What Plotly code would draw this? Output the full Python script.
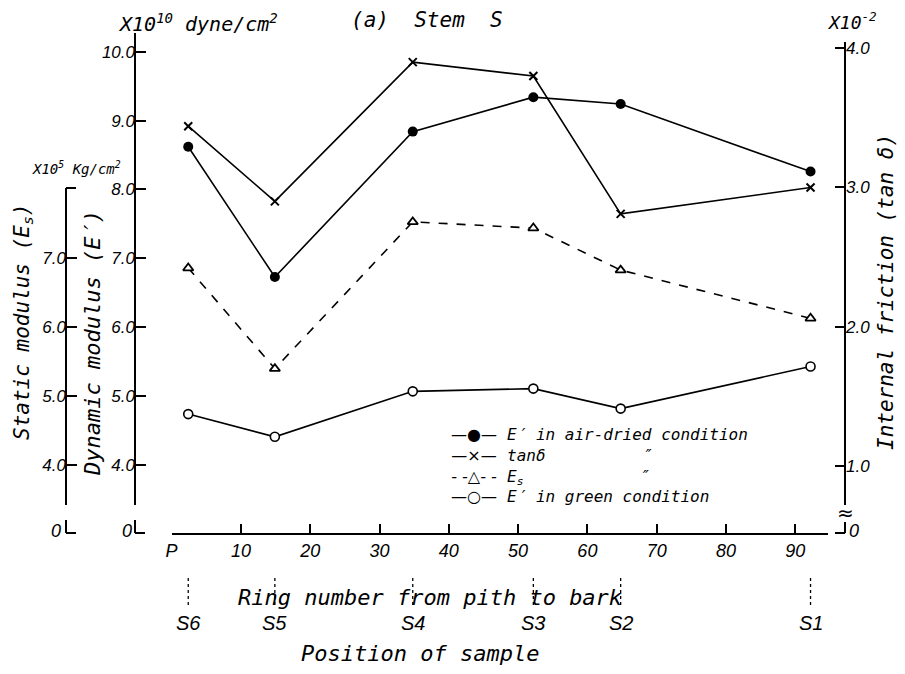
import plotly.graph_objects as go

# ---------------- data ----------------
ring = [2.4, 14.9, 34.8, 52.2, 64.8, 92.2]           # ring number of each sample
samples = ["S6", "S5", "S4", "S3", "S2", "S1"]
e_air = [8.62, 6.73, 8.84, 9.34, 9.24, 8.26]          # E' air-dried, x10^10 dyne/cm2
tan_d = [3.44, 2.90, 3.90, 3.80, 2.81, 3.00]          # tan delta, x10^-2
e_s = [6.86, 5.40, 7.53, 7.44, 6.83, 6.13]            # Es, x10^5 kg/cm2
e_green = [4.74, 4.41, 5.07, 5.11, 4.82, 5.43]        # E' green, x10^10 dyne/cm2

x_ticks = [0, 10, 20, 30, 40, 50, 60, 70, 80, 90]
x_labels = ["P", "10", "20", "30", "40", "50", "60", "70", "80", "90"]
dyn_ticks = [4, 5, 6, 7, 8, 9, 10]
dyn_labels = ["4.0", "5.0", "6.0", "7.0", "8.0", "9.0", "10.0"]
sta_ticks = [4, 5, 6, 7]
sta_labels = ["4.0", "5.0", "6.0", "7.0"]
tan_ticks = [1, 2, 3, 4]
tan_labels = ["1.0", "2.0", "3.0", "4.0"]

legend_keys = ["—●—", "—×—", "- -△- -", "—○—"]
legend_labels = ["E′ in air-dried condition",
                 "tanδ" + "\u00a0" * 10 + "″",
                 "E<sub>s</sub>" + "\u00a0" * 12 + "″",
                 "E′ in green condition"]

# ---------------- geometry helpers (screen pixels; page body has an 8px margin) ----------------
W, H = 905, 674
OFF = 8
ML, MR, MT, MB = 42, 48, 22, 149
PW, PH = W - ML - MR, H - MT - MB


def px(xp):
    return (xp - OFF - ML) / PW


def py(yp):
    return (H - MB - (yp - OFF)) / PH


TXT = "DejaVu Sans Mono"
SYM = "DejaVu Sans"
NUM = "Liberation Sans"
BLK = "black"

fig = go.Figure()

fig.add_trace(go.Scatter(
    x=ring, y=e_air, yaxis="y", mode="lines+markers", name="E′ in air-dried condition",
    line=dict(color=BLK, width=1.6),
    marker=dict(symbol="circle", size=10, color=BLK)))
fig.add_trace(go.Scatter(
    x=ring, y=tan_d, yaxis="y2", mode="lines+markers", name="tanδ",
    line=dict(color=BLK, width=1.6),
    marker=dict(symbol="x-thin", size=8, color=BLK, line=dict(color=BLK, width=2))))
fig.add_trace(go.Scatter(
    x=ring, y=e_s, yaxis="y3", mode="lines+markers", name="Es",
    line=dict(color=BLK, width=1.6, dash="dash"),
    marker=dict(symbol="triangle-up", size=9, color="white", line=dict(color=BLK, width=1.8))))
fig.add_trace(go.Scatter(
    x=ring, y=e_green, yaxis="y", mode="lines+markers", name="E′ in green condition",
    line=dict(color=BLK, width=1.6),
    marker=dict(symbol="circle", size=9, color="white", line=dict(color=BLK, width=1.6))))

dyn_range = [3.014, 10.315]
tan_range = [0.518, 4.131]

common_y = dict(showgrid=False, zeroline=False, showline=False, ticks="inside",
                ticklen=10, tickwidth=2, tickcolor=BLK, automargin=False,
                tickfont=dict(family=NUM, size=17, color=BLK, style="italic"))

fig.update_layout(
    width=W, height=H,
    margin=dict(l=ML, r=MR, t=MT, b=MB, autoexpand=False),
    paper_bgcolor="white", plot_bgcolor="white",
    showlegend=False,
    xaxis=dict(domain=[px(171.6), px(828)], range=[0, 94.72],
               tickvals=x_ticks, ticktext=x_labels,
               showline=True, linewidth=2, linecolor=BLK,
               ticks="inside", ticklen=9, tickwidth=2, tickcolor=BLK,
               showgrid=False, zeroline=False, anchor="y", automargin=False,
               tickfont=dict(family=NUM, size=18, color=BLK, style="italic")),
    yaxis=dict(range=dyn_range, tickvals=dyn_ticks, ticktext=dyn_labels,
               anchor="free", position=px(135), side="left", **common_y),
    yaxis2=dict(range=tan_range, tickvals=tan_ticks, ticktext=tan_labels,
                anchor="free", position=px(845), side="right", overlaying="y", **common_y),
    yaxis3=dict(range=dyn_range, tickvals=sta_ticks, ticktext=sta_labels,
                anchor="free", position=px(66), side="left", overlaying="y", **common_y),
)

# ---------------- axis lines with breaks ----------------
shapes = []


def seg(x0, y0, x1, y1, w=2):
    shapes.append(dict(type="line", xref="paper", yref="paper",
                       x0=px(x0), y0=py(y0), x1=px(x1), y1=py(y1),
                       line=dict(color=BLK, width=w)))


# dynamic axis
seg(135, 33, 135, 505)
seg(135, 520, 135, 533)
seg(135, 533, 145, 533)
# static axis (top end carries a short tick)
seg(66, 188, 66, 505)
seg(66, 188, 76, 188)
seg(66, 520, 66, 533)
seg(66, 533, 76, 533)
# right axis (tan delta)
seg(845, 42, 845, 505)
seg(845, 522, 845, 533)
seg(835, 533, 845, 533)

# dotted sample markers below the axis
for r in ring:
    shapes.append(dict(type="line", xref="x", yref="paper", x0=r, x1=r,
                       y0=py(578), y1=py(607),
                       line=dict(color=BLK, width=1.3, dash="dot")))

fig.update_layout(shapes=shapes)

# ---------------- texts ----------------
ann = []


def text(xp, yp, s, size=20, family=TXT, angle=0, xanchor="center", yanchor="middle",
         align="center"):
    ann.append(dict(xref="paper", yref="paper", x=px(xp), y=py(yp), text=s,
                    showarrow=False, xanchor=xanchor, yanchor=yanchor, textangle=angle,
                    align=align, borderpad=0,
                    font=dict(family=family, size=size, color=BLK, style="italic")))


text(117, 23, "X10<sup>10</sup> dyne/cm<sup>2</sup>", size=20, xanchor="left")
text(350, 20, "(a)  Stem  S", size=21, xanchor="left")
text(826, 21, "X10<sup>-2</sup>", size=18, xanchor="left")
text(31, 168, "X10<sup>5</sup> Kg/cm<sup>2</sup>", size=14, xanchor="left")

text(23, 322, "Static modulus (E<sub>s</sub>)", size=21, angle=-90)
text(92, 343, "Dynamic modulus (E′)", size=22, angle=-90)
text(886, 292, "Internal friction (tan δ)", size=21, angle=-90)

# zero labels of broken axes
text(127, 531, "0", size=18, family=NUM)
text(56, 531, "0", size=18, family=NUM)
text(854, 531, "0", size=18, family=NUM)
text(845, 513, "≈", size=20, family=SYM)

text(430, 597, "Ring number from pith to bark", size=22)
text(420, 653, "Position of sample", size=22)

for r, s in zip(ring, samples):
    ann.append(dict(xref="x", yref="paper", x=r, y=py(623), text=s, showarrow=False,
                    xanchor="center", yanchor="middle",
                    font=dict(family=NUM, size=20, color=BLK, style="italic")))

# manual legend (two multi-line blocks: keys and labels)
text(474, 465, "<br>".join(legend_keys), size=16, family=SYM)
text(506, 465, "<br>".join(legend_labels), size=16, xanchor="left", align="left")

fig.update_layout(annotations=ann)

fig.write_html("out.html")
